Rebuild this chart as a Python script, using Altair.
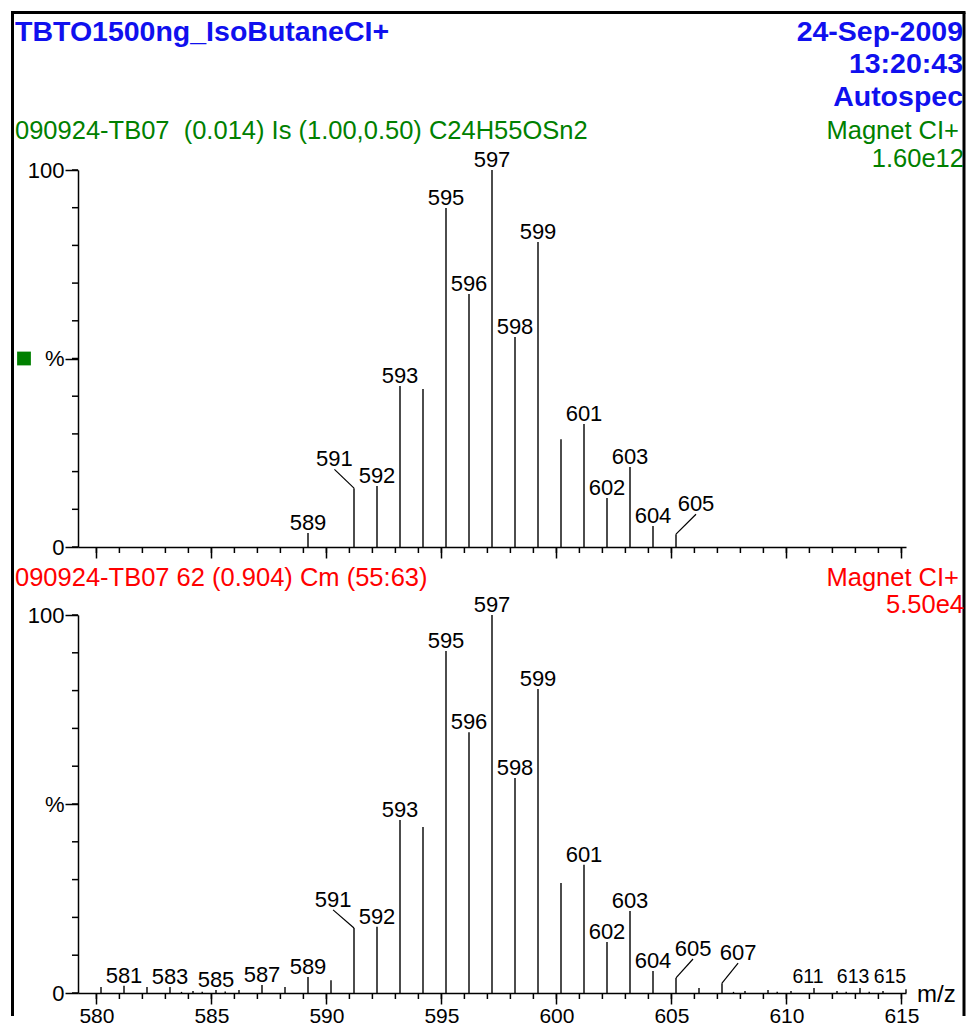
import altair as alt
import pandas as pd

FONT = "Liberation Sans"
BLUE = "#1010ee"
GREEN = "#008000"
RED = "#ff0000"

# ---------------- data: top panel (isotope model C24H55OSn2) ----------------
top_mz = [589.2, 591.2, 592.2, 593.2, 594.2, 595.2, 596.2, 597.2, 598.2, 599.2,
          600.2, 601.2, 602.2, 603.2, 604.2, 605.2]
top_int = [3.7, 15.6, 16.2, 42.7, 41.9, 89.9, 67.1, 100.0, 55.7, 80.9,
           28.6, 32.6, 13.0, 21.2, 5.6, 3.4]

top_lab_text = ["589", "591", "592", "593", "595", "596", "597", "598", "599",
                "601", "602", "603", "604", "605"]
top_lab_peak = [589.2, 591.2, 592.2, 593.2, 595.2, 596.2, 597.2, 598.2, 599.2,
                601.2, 602.2, 603.2, 604.2, 605.2]
# label anchor (m/z, %) -- equal to the peak unless offset with a leader line
top_lab_x = [589.2, 590.35, 592.2, 593.2, 595.2, 596.2, 597.2, 598.2, 599.2,
             601.2, 602.2, 603.2, 604.2, 606.07]
top_lab_y = [3.7, 20.6, 16.2, 42.7, 89.9, 67.1, 100.0, 55.7, 80.9,
             32.6, 13.0, 21.2, 5.6, 8.7]
top_lab_leader = [False, True, False, False, False, False, False, False, False,
                  False, False, False, False, True]
top_lab_size = [22] * 14

# ---------------- data: bottom panel (measured, Cm 55:63) ----------------
bot_mz = [580.2, 581.2, 582.2, 583.2, 583.7, 584.2, 584.6, 585.2, 585.6, 586.2,
          587.2, 588.2, 589.2, 590.2, 591.2, 592.2, 593.2, 594.2, 595.2, 596.2,
          597.2, 598.2, 599.2, 600.2, 601.2, 602.2, 603.2, 604.2, 605.2, 606.2,
          607.2, 607.7, 608.2, 609.2, 609.6, 610.2, 611.2, 612.2, 612.6, 613.2,
          613.6, 614.2, 615.2]
bot_int = [1.6, 1.9, 1.6, 1.6, 0.3, 0.5, 0.3, 0.8, 0.4, 0.8,
           2.1, 1.6, 4.2, 3.4, 17.2, 17.5, 45.8, 43.9, 90.5, 69.0,
           100.0, 56.9, 80.4, 29.1, 33.9, 13.5, 21.7, 5.8, 4.0, 1.3,
           2.6, 0.3, 0.5, 0.8, 0.3, 0.5, 1.3, 0.5, 0.3, 1.3,
           0.3, 0.5, 1.0]

bot_lab_text = ["581", "583", "585", "587", "589", "591", "592", "593", "595",
                "596", "597", "598", "599", "601", "602", "603", "604", "605",
                "607", "611", "613", "615"]
bot_lab_peak = [581.2, 583.2, 585.2, 587.2, 589.2, 591.2, 592.2, 593.2, 595.2,
                596.2, 597.2, 598.2, 599.2, 601.2, 602.2, 603.2, 604.2, 605.2,
                607.2, 611.2, 613.2, 615.2]
bot_lab_x = [581.2, 583.2, 585.2, 587.2, 589.2, 590.29, 592.2, 593.2, 595.2,
             596.2, 597.2, 598.2, 599.2, 601.2, 602.2, 603.2, 604.2, 605.94,
             607.9, 610.94, 612.9, 614.5]
bot_lab_y = [1.9, 1.6, 0.8, 2.1, 4.2, 22.0, 17.5, 45.8, 90.5,
             69.0, 100.0, 56.9, 80.4, 33.9, 13.5, 21.7, 5.8, 9.0,
             7.9, 1.85, 1.85, 1.85]
bot_lab_leader = [False, False, False, False, False, True, False, False, False,
                  False, False, False, False, False, False, False, False, True,
                  True, False, False, False]
bot_lab_size = [22] * 19 + [19.5, 19.5, 19.5]

X_DOMAIN = [579.2, 615.2]
MAJOR_X = list(range(580, 616, 5))
MINOR_X = list(range(580, 616))
MINOR_Y = list(range(0, 101, 10))
PANEL_W = 828

ONE = alt.Data(values=[{"k": 1}])


def text_layer(txt, x, y, size, color, align="left", weight="normal"):
    return alt.Chart(ONE).mark_text(
        text=txt, x=x, y=y, align=align, baseline="alphabetic",
        fontSize=size, font=FONT, color=color, fontWeight=weight)


def panel(mz, inten, lt, lp, lx, ly, ll, ls, height, show_xlabels, extras):
    peaks = pd.DataFrame({"mz": mz, "i": inten})
    lookup = dict(zip(mz, inten))
    labs = pd.DataFrame({"t": lt, "pmz": lp, "pi": [lookup[p] for p in lp],
                         "lx": lx, "ly": ly, "leader": ll, "fs": ls})
    xticks = pd.DataFrame({"v": MINOR_X})
    yticks = pd.DataFrame({"w": MINOR_Y})

    xs = alt.Scale(domain=X_DOMAIN, nice=False, zero=False)
    ys = alt.Scale(domain=[0, 100], nice=False, zero=False)

    major_x = alt.Axis(values=MAJOR_X, orient="bottom", tickSize=11, tickWidth=1.5,
                       tickColor="black", domainColor="black", domainWidth=1.5,
                       labels=show_xlabels, labelFontSize=21, labelFont=FONT,
                       labelColor="black", labelPadding=1, labelFlush=False,
                       labelOverlap=False, grid=False, title=None)
    major_y = alt.Axis(values=[0, 50, 100], orient="left", tickSize=13, tickWidth=1.5,
                       tickColor="black", domainColor="black", domainWidth=1.5,
                       labelFontSize=22, labelFont=FONT, labelColor="black",
                       labelPadding=1, labelFlush=False, labelOverlap=False,
                       labelExpr="datum.value === 50 ? '%' : datum.label",
                       grid=False, title=None)

    sticks = alt.Chart(peaks).mark_rule(color="black", strokeWidth=1.4).encode(
        x=alt.X("mz:Q", scale=xs, axis=major_x),
        y=alt.Y("i:Q", scale=ys, axis=major_y),
        y2=alt.datum(0),
    )
    minor_x = alt.Chart(xticks).mark_rule(color="black", strokeWidth=1.5).encode(
        x=alt.X("v:Q", axis=None),
        y=alt.value(height), y2=alt.value(height + 6))
    minor_y = alt.Chart(yticks).mark_rule(color="black", strokeWidth=1.5).encode(
        y=alt.Y("w:Q", axis=None),
        x=alt.value(-6), x2=alt.value(0))
    leaders = alt.Chart(labs).transform_filter("datum.leader").mark_rule(
        color="black", strokeWidth=1.2).encode(
        x=alt.X("pmz:Q", axis=None), y=alt.Y("pi:Q", axis=None),
        x2="lx:Q", y2="ly:Q")
    labels = alt.Chart(labs).mark_text(
        font=FONT, baseline="alphabetic", align="center", dy=-3,
        color="black").encode(
        x=alt.X("lx:Q", axis=None), y=alt.Y("ly:Q", axis=None), text="t:N",
        size=alt.Size("fs:Q", scale=None, legend=None))

    return alt.layer(sticks, minor_x, minor_y, leaders, labels, *extras).resolve_axis(
        x="independent", y="independent").properties(width=PANEL_W, height=height)


# decorations of the top panel (coordinates relative to its plot area)
top_extras = [
    # frame
    alt.Chart(ONE).mark_rule(color="black", strokeWidth=3).encode(
        x=alt.value(-65.5), y=alt.value(-157.5), y2=alt.value(846)),
    alt.Chart(ONE).mark_rule(color="black", strokeWidth=3).encode(
        x=alt.value(886), y=alt.value(-157.5), y2=alt.value(846)),
    alt.Chart(ONE).mark_rule(color="black", strokeWidth=3).encode(
        x=alt.value(-67), x2=alt.value(887.5), y=alt.value(-157.5)),
    text_layer("TBTO1500ng_IsoButaneCI+", -63, -129, 28.5, BLUE, "left", "bold"),
    text_layer("24-Sep-2009", 885, -129, 28.5, BLUE, "right", "bold"),
    text_layer("13:20:43", 885, -97, 28.5, BLUE, "right", "bold"),
    text_layer("Autospec", 885, -64, 28.5, BLUE, "right", "bold"),
    text_layer("090924-TB07\u00a0 (0.014) Is (1.00,0.50) C24H55OSn2", -63, -31, 25.5, GREEN),
    text_layer("Magnet CI+", 881, -31, 25.5, GREEN, "right"),
    text_layer("1.60e12", 886, -3, 25.5, GREEN, "right"),
    alt.Chart(ONE).mark_point(shape="square", filled=True, color=GREEN, size=190,
                              opacity=1).encode(
        x=alt.value(-54), y=alt.Y(datum=50, axis=None)),
]

bot_extras = [
    text_layer("090924-TB07 62 (0.904) Cm (55:63)", -63, -29, 25.5, RED),
    text_layer("Magnet CI+", 881, -29, 25.5, RED, "right"),
    text_layer("5.50e4", 886, -2, 25.5, RED, "right"),
    text_layer("m/z", 839, 387, 24, "black", "left"),
]

top = panel(top_mz, top_int, top_lab_text, top_lab_peak, top_lab_x, top_lab_y,
            top_lab_leader, top_lab_size, 377, False, top_extras)
bottom = panel(bot_mz, bot_int, bot_lab_text, bot_lab_peak, bot_lab_x, bot_lab_y,
               bot_lab_leader, bot_lab_size, 378, True, bot_extras)

chart = alt.vconcat(top, bottom, spacing=68, bounds="flush").properties(
    padding={"left": 9, "top": 11, "right": 0, "bottom": 0},
    background="white",
).configure_view(stroke=None)

chart.save("out.html", embed_options={"renderer": "svg", "actions": False})
